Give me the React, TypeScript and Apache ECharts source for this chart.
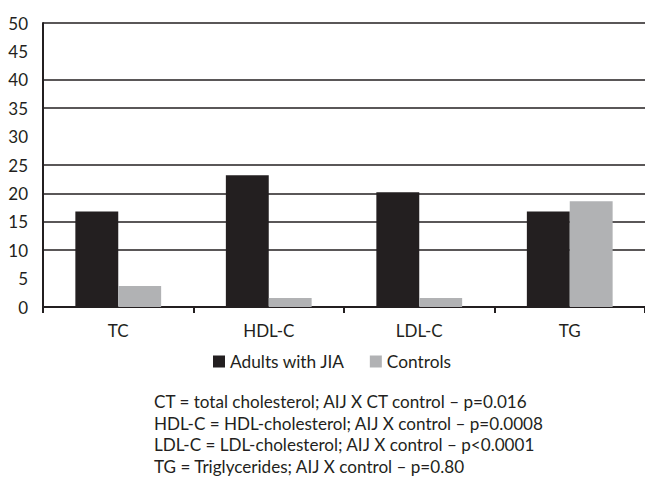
import React, { useEffect, useRef } from "react";
import * as echarts from "echarts";

const categories = ["TC", "HDL-C", "LDL-C", "TG"];
const seriesNames = ["Adults with JIA", "Controls"];
const jiaValues = [16.8, 23.2, 20.2, 16.8];
const controlValues = [3.7, 1.6, 1.6, 18.6];
const gridValues = [10, 15, 20, 25, 35, 40, 50];
const footnotes = [
  "CT = total cholesterol; AIJ X CT control \u2013 p=0.016",
  "HDL-C = HDL-cholesterol; AIJ X control \u2013 p=0.0008",
  "LDL-C = LDL-cholesterol; AIJ X control \u2013 p<0.0001",
  "TG = Triglycerides; AIJ X control \u2013 p=0.80",
];

const FONT = "Lato";
const INK = "#231f20";
const GRAY = "#b1b2b4";

export default function App() {
  const ref = useRef<HTMLDivElement>(null);
  useEffect(() => {
    if (!ref.current) return;
    const chart = echarts.init(ref.current, null, { renderer: "svg" });
    chart.setOption({
      animation: false,
      backgroundColor: "#ffffff",
      textStyle: { fontFamily: FONT, color: INK },
      grid: { left: 43, top: 23, width: 604, height: 284, containLabel: false },
      legend: {
        data: seriesNames,
        left: 213,
        top: 353,
        padding: 0,
        icon: "rect",
        itemWidth: 12,
        itemHeight: 12,
        itemGap: 25,
        textStyle: { fontFamily: FONT, fontSize: 17.3, color: INK },
      },
      xAxis: {
        type: "category",
        data: categories,
        axisLine: { show: true, lineStyle: { color: INK, width: 2 } },
        axisTick: { show: true, length: 6, lineStyle: { color: INK, width: 2 } },
        axisLabel: { fontFamily: FONT, fontSize: 17, color: INK, margin: 15 },
        splitLine: { show: false },
      },
      yAxis: {
        type: "value",
        min: 0,
        max: 50,
        interval: 5,
        axisLine: { show: true, lineStyle: { color: INK, width: 2 } },
        axisTick: { show: false },
        axisLabel: { fontFamily: FONT, fontSize: 17, color: INK, margin: 15 },
        splitLine: { show: false },
      },
      series: [
        {
          name: seriesNames[0],
          type: "bar",
          data: jiaValues,
          barGap: "0%",
          barCategoryGap: "43%",
          itemStyle: { color: INK },
          z: 3,
          markLine: {
            silent: true,
            symbol: "none",
            z: 1,
            label: { show: false },
            lineStyle: { color: INK, width: 1.6, type: "solid" },
            data: gridValues.map((v) => ({ yAxis: v })),
          },
        },
        {
          name: seriesNames[1],
          type: "bar",
          data: controlValues,
          itemStyle: { color: GRAY },
          z: 3,
        },
      ],
      graphic: footnotes.map((t, i) => ({
        type: "text",
        left: 154,
        top: 393 + i * 21.5,
        style: { text: t, fontFamily: FONT, fontSize: 17.1, fill: INK },
      })),
    });
    return () => chart.dispose();
  }, []);
  return (
    <div
      ref={ref}
      style={{ position: "fixed", left: 0, top: 0, width: 645, height: 478 }}
    />
  );
}
